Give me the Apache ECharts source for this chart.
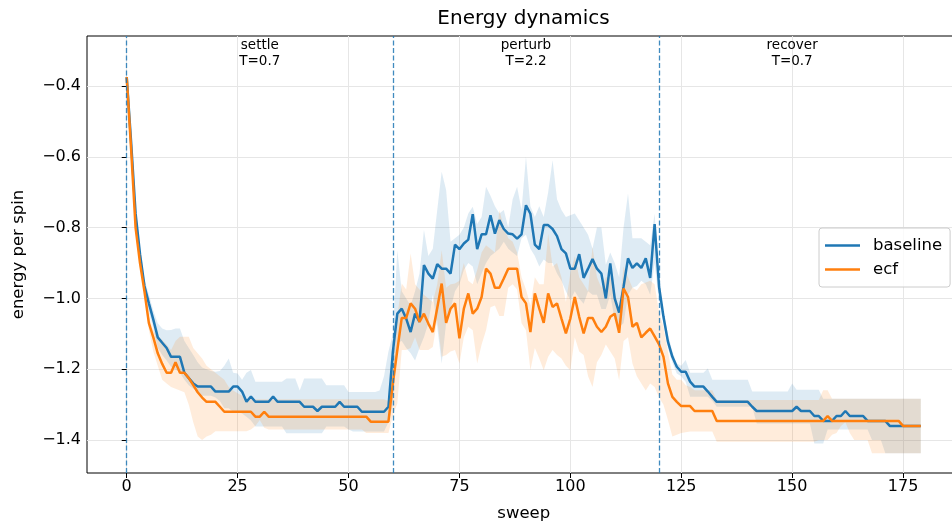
<!DOCTYPE html>
<html>
<head>
<meta charset="utf-8">
<script src="https://cdn.jsdelivr.net/npm/echarts@6/dist/echarts.min.js"></script>
<style>
  html, body { margin: 0; padding: 0; background: #fff; }
  #chart { width: 952px; height: 530px; }
</style>
</head>
<body>
<div id="chart"></div>
<script>
// mean energy per spin, one value per sweep (0..179)
const baseline = [
  -0.375,-0.56,-0.76,-0.875,-0.965,-1.014,-1.06,-1.11,-1.125,-1.14,
  -1.165,-1.165,-1.165,-1.21,-1.225,-1.24,-1.249,-1.249,-1.249,-1.249,
  -1.263,-1.263,-1.263,-1.263,-1.249,-1.249,-1.263,-1.292,-1.277,-1.292,
  -1.292,-1.292,-1.292,-1.277,-1.292,-1.292,-1.292,-1.292,-1.292,-1.292,
  -1.306,-1.306,-1.306,-1.318,-1.306,-1.306,-1.306,-1.306,-1.292,-1.306,
  -1.306,-1.306,-1.306,-1.32,-1.32,-1.32,-1.32,-1.32,-1.32,-1.306,
  -1.15,-1.043,-1.029,-1.057,-1.095,-1.043,-1.066,-0.906,-0.93,-0.944,
  -0.903,-0.916,-0.916,-0.93,-0.848,-0.861,-0.845,-0.834,-0.762,-0.861,
  -0.819,-0.819,-0.765,-0.817,-0.779,-0.804,-0.817,-0.819,-0.831,-0.819,
  -0.737,-0.761,-0.848,-0.861,-0.793,-0.793,-0.804,-0.824,-0.861,-0.873,
  -0.916,-0.916,-0.875,-0.942,-0.916,-0.889,-0.916,-0.93,-1.0,-0.901,
  -1.0,-1.04,-0.967,-0.887,-0.914,-0.901,-0.914,-0.887,-0.942,-0.79,
  -0.967,-1.052,-1.122,-1.165,-1.193,-1.207,-1.207,-1.235,-1.249,-1.249,
  -1.249,-1.263,-1.278,-1.292,-1.292,-1.292,-1.292,-1.292,-1.292,-1.292,
  -1.292,-1.306,-1.318,-1.318,-1.318,-1.318,-1.318,-1.318,-1.318,-1.318,
  -1.318,-1.306,-1.318,-1.318,-1.318,-1.332,-1.332,-1.346,-1.346,-1.346,
  -1.332,-1.332,-1.318,-1.332,-1.332,-1.332,-1.332,-1.346,-1.346,-1.346,
  -1.346,-1.346,-1.36,-1.36,-1.36,-1.36,-1.36,-1.36,-1.36,-1.36
];
const baselineHi = [
  -0.365,-0.54,-0.74,-0.855,-0.945,-0.99,-1.035,-1.07,-1.085,-1.09,
  -1.089,-1.085,-1.085,-1.12,-1.14,-1.16,-1.18,-1.195,-1.2,-1.205,
  -1.207,-1.205,-1.19,-1.17,-1.21,-1.212,-1.23,-1.21,-1.202,-1.235,
  -1.235,-1.235,-1.235,-1.235,-1.235,-1.235,-1.226,-1.226,-1.226,-1.26,
  -1.226,-1.226,-1.226,-1.226,-1.226,-1.245,-1.245,-1.245,-1.245,-1.245,
  -1.264,-1.264,-1.264,-1.264,-1.264,-1.264,-1.264,-1.26,-1.22,-1.15,
  -1.1,-0.864,-0.98,-1.0,-1.02,-0.98,-0.93,-0.807,-0.88,-0.86,
  -0.75,-0.642,-0.694,-0.84,-0.83,-0.82,-0.8,-0.76,-0.741,-0.79,
  -0.77,-0.685,-0.71,-0.74,-0.76,-0.75,-0.8,-0.72,-0.685,-0.75,
  -0.6,-0.74,-0.77,-0.74,-0.77,-0.7,-0.61,-0.72,-0.75,-0.77,
  -0.765,-0.76,-0.78,-0.8,-0.82,-0.86,-0.8,-0.8,-0.905,-0.87,
  -0.9,-0.94,-0.8,-0.704,-0.83,-0.83,-0.83,-0.84,-0.85,-0.76,
  -0.95,-1.04,-1.1,-1.15,-1.184,-1.19,-1.174,-1.21,-1.21,-1.21,
  -1.21,-1.198,-1.23,-1.23,-1.23,-1.23,-1.23,-1.23,-1.23,-1.23,
  -1.23,-1.263,-1.263,-1.263,-1.263,-1.263,-1.263,-1.263,-1.263,-1.263,
  -1.24,-1.258,-1.258,-1.258,-1.258,-1.258,-1.258,-1.283,-1.283,-1.283,
  -1.283,-1.283,-1.283,-1.283,-1.283,-1.283,-1.283,-1.283,-1.283,-1.283,
  -1.283,-1.283,-1.283,-1.283,-1.283,-1.283,-1.283,-1.283,-1.283,-1.283
];
const baselineLo = [
  -0.385,-0.58,-0.78,-0.895,-0.985,-1.04,-1.085,-1.14,-1.16,-1.175,
  -1.193,-1.2,-1.21,-1.23,-1.245,-1.255,-1.263,-1.275,-1.275,-1.275,
  -1.28,-1.29,-1.31,-1.31,-1.32,-1.32,-1.325,-1.334,-1.345,-1.362,
  -1.362,-1.362,-1.362,-1.362,-1.362,-1.362,-1.381,-1.381,-1.381,-1.381,
  -1.381,-1.381,-1.381,-1.381,-1.381,-1.362,-1.362,-1.362,-1.362,-1.362,
  -1.37,-1.376,-1.376,-1.376,-1.376,-1.376,-1.376,-1.376,-1.376,-1.35,
  -1.3,-1.125,-1.12,-1.14,-1.155,-1.175,-1.14,-1.11,-1.07,-0.99,
  -1.08,-1.184,-1.07,-1.03,-0.98,-0.96,-0.92,-0.9,-0.91,-0.96,
  -0.93,-0.9,-0.88,-0.87,-0.86,-0.84,-0.86,-0.87,-0.88,-0.83,
  -0.82,-0.86,-0.88,-0.91,-0.89,-0.9,-0.9,-0.93,-0.95,-0.98,
  -1.005,-0.98,-1.0,-1.015,-0.98,-0.99,-0.99,-1.03,-1.03,-0.99,
  -1.06,-1.08,-1.07,-0.99,-0.97,-0.965,-0.95,-0.96,-0.99,-0.9,
  -1.01,-1.07,-1.14,-1.18,-1.212,-1.22,-1.235,-1.278,-1.278,-1.278,
  -1.278,-1.278,-1.29,-1.306,-1.306,-1.306,-1.306,-1.306,-1.306,-1.306,
  -1.306,-1.306,-1.353,-1.353,-1.353,-1.353,-1.353,-1.353,-1.353,-1.353,
  -1.353,-1.353,-1.353,-1.353,-1.353,-1.41,-1.41,-1.41,-1.37,-1.37,
  -1.37,-1.37,-1.37,-1.37,-1.37,-1.37,-1.37,-1.37,-1.4,-1.4,
  -1.4,-1.437,-1.437,-1.437,-1.437,-1.437,-1.437,-1.437,-1.437,-1.437
];
const ecf = [
  -0.375,-0.58,-0.8,-0.9,-0.98,-1.07,-1.11,-1.155,-1.185,-1.21,
  -1.21,-1.18,-1.21,-1.21,-1.225,-1.245,-1.265,-1.28,-1.292,-1.292,
  -1.292,-1.306,-1.32,-1.32,-1.32,-1.32,-1.32,-1.32,-1.32,-1.334,
  -1.334,-1.32,-1.334,-1.334,-1.334,-1.334,-1.334,-1.334,-1.334,-1.334,
  -1.334,-1.334,-1.334,-1.334,-1.334,-1.334,-1.334,-1.334,-1.334,-1.334,
  -1.334,-1.334,-1.334,-1.334,-1.334,-1.348,-1.348,-1.348,-1.348,-1.348,
  -1.24,-1.146,-1.055,-1.055,-1.014,-1.029,-1.066,-1.043,-1.071,-1.095,
  -1.027,-0.958,-1.069,-1.029,-1.014,-1.113,-1.029,-0.986,-1.043,-1.029,
  -0.996,-0.916,-0.93,-0.97,-0.97,-0.944,-0.916,-0.916,-0.916,-0.996,
  -1.014,-1.095,-0.986,-1.029,-1.069,-0.986,-1.024,-1.014,-1.057,-1.099,
  -1.057,-0.996,-1.052,-1.099,-1.055,-1.055,-1.08,-1.095,-1.08,-1.052,
  -1.043,-1.097,-0.972,-0.996,-1.08,-1.069,-1.11,-1.097,-1.085,-1.107,
  -1.13,-1.165,-1.24,-1.278,-1.292,-1.304,-1.304,-1.304,-1.318,-1.318,
  -1.318,-1.318,-1.318,-1.346,-1.346,-1.346,-1.346,-1.346,-1.346,-1.346,
  -1.346,-1.346,-1.346,-1.346,-1.346,-1.346,-1.346,-1.346,-1.346,-1.346,
  -1.346,-1.346,-1.346,-1.346,-1.346,-1.346,-1.346,-1.346,-1.332,-1.346,
  -1.346,-1.346,-1.346,-1.346,-1.346,-1.346,-1.346,-1.346,-1.346,-1.346,
  -1.346,-1.346,-1.346,-1.346,-1.346,-1.36,-1.36,-1.36,-1.36,-1.36
];
const ecfHi = [
  -0.365,-0.565,-0.785,-0.885,-0.965,-1.05,-1.09,-1.11,-1.117,-1.13,
  -1.146,-1.12,-1.108,-1.108,-1.108,-1.14,-1.155,-1.17,-1.19,-1.2,
  -1.21,-1.22,-1.23,-1.25,-1.26,-1.268,-1.275,-1.285,-1.285,-1.285,
  -1.285,-1.285,-1.285,-1.285,-1.285,-1.285,-1.285,-1.285,-1.285,-1.285,
  -1.285,-1.285,-1.285,-1.285,-1.285,-1.285,-1.285,-1.285,-1.285,-1.285,
  -1.285,-1.285,-1.285,-1.285,-1.285,-1.285,-1.285,-1.285,-1.285,-1.29,
  -1.18,-1.05,-0.958,-0.975,-0.873,-0.96,-0.975,-0.99,-1.0,-1.01,
  -0.96,-0.864,-0.97,-0.96,-0.958,-0.95,-0.9,-0.95,-0.96,-0.92,
  -0.87,-0.85,-0.86,-0.87,-0.75,-0.8,-0.83,-0.84,-0.87,-0.94,
  -0.975,-1.02,-0.94,-0.96,-0.96,-0.817,-0.91,-0.9,-0.94,-1.01,
  -0.93,-0.88,-0.94,-0.96,-0.98,-0.854,-0.94,-0.97,-0.94,-0.94,
  -0.98,-1.03,-0.91,-0.94,-0.97,-0.977,-0.96,-0.955,-0.95,-0.96,
  -1.04,-1.08,-1.15,-1.215,-1.23,-1.23,-1.245,-1.25,-1.259,-1.259,
  -1.259,-1.259,-1.259,-1.287,-1.287,-1.287,-1.287,-1.287,-1.287,-1.287,
  -1.287,-1.287,-1.287,-1.287,-1.287,-1.287,-1.287,-1.287,-1.287,-1.287,
  -1.287,-1.287,-1.287,-1.287,-1.287,-1.287,-1.287,-1.259,-1.259,-1.283,
  -1.283,-1.283,-1.283,-1.283,-1.283,-1.283,-1.283,-1.283,-1.283,-1.283,
  -1.283,-1.283,-1.283,-1.283,-1.283,-1.283,-1.283,-1.283,-1.283,-1.283
];
const ecfLo = [
  -0.385,-0.595,-0.815,-0.915,-0.995,-1.09,-1.15,-1.19,-1.23,-1.24,
  -1.25,-1.255,-1.26,-1.265,-1.3,-1.35,-1.39,-1.4,-1.39,-1.385,
  -1.375,-1.375,-1.375,-1.375,-1.375,-1.375,-1.375,-1.375,-1.37,-1.36,
  -1.343,-1.365,-1.37,-1.37,-1.37,-1.37,-1.37,-1.37,-1.37,-1.37,
  -1.37,-1.37,-1.37,-1.37,-1.37,-1.37,-1.37,-1.37,-1.37,-1.37,
  -1.37,-1.37,-1.37,-1.37,-1.38,-1.38,-1.38,-1.38,-1.38,-1.38,
  -1.33,-1.297,-1.146,-1.146,-1.14,-1.11,-1.146,-1.146,-1.146,-1.137,
  -1.06,-1.165,-1.16,-1.15,-1.146,-1.184,-1.11,-1.08,-1.09,-1.184,
  -1.13,-1.09,-1.025,-1.02,-1.05,-1.05,-0.97,-0.96,-0.975,-1.07,
  -1.09,-1.203,-1.14,-1.17,-1.203,-1.165,-1.146,-1.16,-1.17,-1.19,
  -1.203,-1.11,-1.15,-1.16,-1.22,-1.25,-1.18,-1.16,-1.13,-1.15,
  -1.17,-1.231,-1.12,-1.11,-1.184,-1.22,-1.24,-1.26,-1.24,-1.25,
  -1.28,-1.3,-1.343,-1.39,-1.385,-1.38,-1.378,-1.376,-1.376,-1.376,
  -1.376,-1.376,-1.376,-1.405,-1.405,-1.405,-1.405,-1.405,-1.405,-1.405,
  -1.405,-1.405,-1.405,-1.405,-1.405,-1.405,-1.405,-1.405,-1.405,-1.405,
  -1.405,-1.405,-1.405,-1.405,-1.405,-1.405,-1.4,-1.4,-1.4,-1.385,
  -1.38,-1.36,-1.35,-1.38,-1.4,-1.4,-1.4,-1.4,-1.437,-1.437,
  -1.437,-1.437,-1.437,-1.437,-1.437,-1.437,-1.437,-1.437,-1.437,-1.437
];

// phases
const phaseStarts = [0, 60, 120];
const phaseMids = [30, 90, 150];
const phaseNames = ['settle', 'perturb', 'recover'];
const phaseTemps = ['T=0.7', 'T=2.2', 'T=0.7'];

const xTicks = [0, 25, 50, 75, 100, 125, 150, 175];
const yTicks = [-1.4, -1.2, -1.0, -0.8, -0.6, -0.4];

const X_MIN = -8.95, X_MAX = 187.95;
const Y_MIN = -1.493, Y_MAX = -0.259;

const FONT = 'DejaVu Sans';
const BLUE = '#1f77b4', ORANGE = '#ff7f0e';

function pairs(arr) {
    return arr.map((v, i) => [i, v]);
}
function minusSign(v) {
    return String(v).replace('-', '\u2212');
}

// shaded band between lo and hi, drawn as one polygon
function band(name, lo, hi, color) {
    return {
        name: name + '_band',
        type: 'custom',
        silent: true,
        z: 1,
        data: lo.map((v, i) => [i, v, hi[i]]),
        encode: { x: 0, y: [1, 2] },
        renderItem: function (params, api) {
            if (params.dataIndex !== 0) return null;
            const pts = [];
            for (let i = 0; i < hi.length; i++) pts.push(api.coord([i, hi[i]]));
            for (let i = lo.length - 1; i >= 0; i--) pts.push(api.coord([i, lo[i]]));
            return {
                type: 'polygon',
                shape: { points: pts },
                style: { fill: color, stroke: null }
            };
        }
    };
}

let myChart = echarts.init(document.getElementById('chart'));
myChart.setOption({
    animation: false,
    textStyle: { fontFamily: FONT, color: '#000' },
    title: {
        text: 'Energy dynamics',
        left: 523.5,
        textAlign: 'center',
        top: 9,
        padding: 0,
        textStyle: { fontFamily: FONT, fontSize: 20, fontWeight: 'normal', color: '#000' }
    },
    legend: {
        data: ['baseline', 'ecf'],
        orient: 'vertical',
        left: 819,
        top: 228,
        padding: [9, 8, 9, 6],
        icon: 'rect',
        itemWidth: 35,
        itemHeight: 2.5,
        itemGap: 7,
        borderColor: '#cccccc',
        borderWidth: 1,
        borderRadius: 3,
        backgroundColor: 'rgba(255,255,255,0.8)',
        textStyle: { fontFamily: FONT, fontSize: 16.5, color: '#000', padding: [0, 0, 0, 8] }
    },
    grid: {
        left: 87,
        right: -8.5,
        top: 36,
        bottom: 57,
        show: true,
        borderColor: '#000',
        borderWidth: 1,
        outerBoundsMode: 'none'
    },
    xAxis: {
        type: 'value',
        min: X_MIN,
        max: X_MAX,
        name: 'sweep',
        nameLocation: 'middle',
        nameGap: 32,
        nameTextStyle: { fontFamily: FONT, fontSize: 16.5, color: '#000' },
        axisLine: { show: false },
        axisTick: { show: true, length: 5, lineStyle: { color: '#000', width: 1 }, customValues: xTicks },
        axisLabel: { fontFamily: FONT, fontSize: 16, color: '#000', margin: 6, customValues: xTicks },
        splitLine: { show: true, lineStyle: { color: '#e6e6e6', width: 1 } }
    },
    yAxis: {
        type: 'value',
        min: Y_MIN,
        max: Y_MAX,
        name: 'energy per spin',
        nameLocation: 'middle',
        nameGap: 60,
        nameTextStyle: { fontFamily: FONT, fontSize: 16.5, color: '#000' },
        axisLine: { show: false },
        axisTick: { show: true, length: 5, lineStyle: { color: '#000', width: 1 }, customValues: yTicks },
        axisLabel: {
            fontFamily: FONT, fontSize: 16, color: '#000', margin: 6,
            customValues: yTicks,
            formatter: v => minusSign(v.toFixed(1))
        },
        splitLine: { show: true, lineStyle: { color: '#e6e6e6', width: 1 } }
    },
    series: [
        band('baseline', baselineLo, baselineHi, 'rgba(31,119,180,0.15)'),
        band('ecf', ecfLo, ecfHi, 'rgba(255,127,14,0.15)'),
        {
            name: 'baseline',
            type: 'line',
            data: pairs(baseline),
            symbol: 'none',
            color: BLUE,
            lineStyle: { color: BLUE, width: 2.5 },
            z: 3,
            markLine: {
                silent: true,
                symbol: 'none',
                label: { show: false },
                lineStyle: { color: 'rgba(31,119,180,0.85)', type: [5, 2.5], width: 1.3 },
                data: phaseStarts.map(x => ({ xAxis: x }))
            },
            markPoint: {
                silent: true,
                symbol: 'circle',
                symbolSize: 0,
                label: {
                    show: true,
                    position: 'bottom',
                    distance: 1,
                    fontFamily: FONT,
                    fontSize: 13.5,
                    lineHeight: 16,
                    color: '#000',
                    align: 'center',
                    formatter: p => p.name
                },
                data: phaseMids.map((x, i) => ({
                    name: phaseNames[i] + '\n' + phaseTemps[i],
                    coord: [x, Y_MAX]
                }))
            }
        },
        {
            name: 'ecf',
            type: 'line',
            data: pairs(ecf),
            symbol: 'none',
            color: ORANGE,
            lineStyle: { color: ORANGE, width: 2.5 },
            z: 4
        }
    ]
});
</script>
</body>
</html>
